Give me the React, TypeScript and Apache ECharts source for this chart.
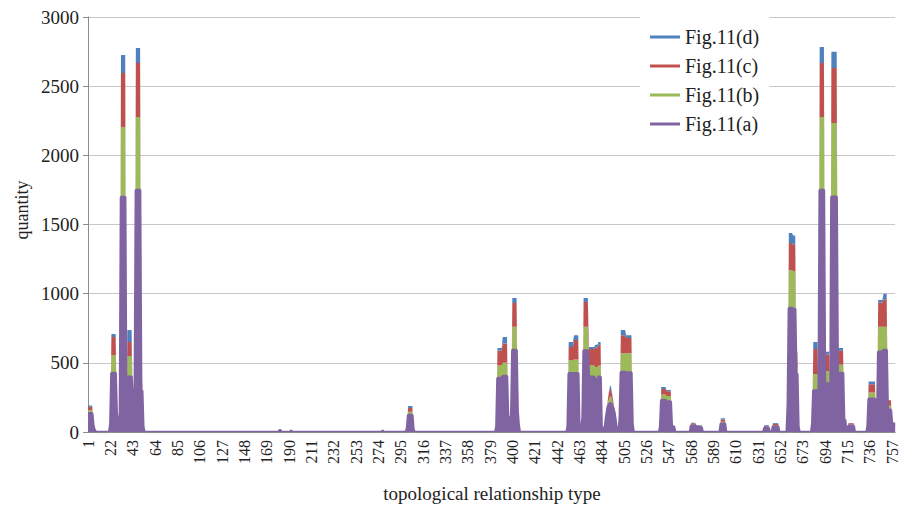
import React, { useEffect, useRef } from "react";
import * as echarts from "echarts";

// ---- data ----
const CATEGORY_COUNT = 760;
const categories: string[] = Array.from({ length: CATEGORY_COUNT }, (_, i) => String(i + 1));

const seriesNames = ["Fig.11(a)", "Fig.11(b)", "Fig.11(c)", "Fig.11(d)"];
const seriesColors = ["#8064A2", "#9BBB59", "#C0504D", "#4F81BD"];
const legendOrder = ["Fig.11(d)", "Fig.11(c)", "Fig.11(b)", "Fig.11(a)"];
const yTicks = [0, 500, 1000, 1500, 2000, 2500, 3000];

// rows: [fromCategory, toCategory, Fig.11(a), Fig.11(b), Fig.11(c), Fig.11(d)]
type Row = [number, number, number, number, number, number];

const leftCluster: Row[] = [
  [1, 5, 135, 22, 25, 10],
  [6, 6, 50, 0, 0, 0],
  [7, 7, 18, 0, 0, 0],
  [8, 8, 6, 0, 0, 0],
  [22, 22, 60, 0, 0, 0],
  [23, 27, 426, 131, 130, 21],
  [28, 28, 150, 20, 0, 0],
  [29, 30, 70, 0, 0, 0],
  [31, 31, 120, 0, 0, 0],
  [32, 36, 1699, 506, 391, 130],
  [37, 37, 80, 0, 0, 0],
  [38, 42, 400, 150, 100, 87],
  [43, 43, 250, 0, 0, 0],
  [44, 44, 200, 0, 0, 0],
  [45, 45, 300, 0, 0, 0],
  [46, 50, 1750, 528, 390, 108],
  [51, 52, 300, 20, 34, 0],
  [53, 53, 40, 0, 0, 0],
];

const smallBumps: Row[] = [
  [181, 182, 12, 0, 0, 0],
  [192, 192, 12, 0, 0, 0],
  [278, 278, 10, 0, 0, 0],
];

const middleCluster: Row[] = [
  [301, 301, 30, 0, 0, 0],
  [302, 306, 123, 24, 26, 15],
  [307, 307, 20, 0, 0, 0],
  [385, 385, 40, 0, 0, 0],
  [386, 390, 390, 90, 110, 17],
  [391, 395, 405, 95, 140, 47],
  [396, 397, 110, 0, 0, 0],
  [398, 398, 20, 0, 0, 0],
  [399, 399, 150, 0, 0, 0],
  [400, 404, 593, 167, 173, 35],
  [405, 405, 150, 0, 0, 0],
  [406, 406, 50, 0, 0, 0],
];

const centreCluster: Row[] = [
  [452, 452, 40, 0, 0, 0],
  [453, 457, 425, 95, 95, 35],
  [458, 462, 425, 100, 140, 35],
  [463, 465, 40, 0, 0, 0],
  [466, 466, 100, 0, 0, 0],
  [467, 471, 590, 170, 180, 28],
  [472, 477, 400, 80, 120, 15],
  [478, 480, 380, 90, 140, 20],
  [481, 483, 400, 80, 150, 20],
  [484, 487, 30, 0, 0, 0],
  [488, 488, 100, 10, 5, 0],
  [489, 489, 150, 20, 10, 0],
  [490, 490, 190, 30, 25, 5],
  [491, 491, 200, 40, 50, 10],
  [492, 492, 210, 50, 60, 20],
  [493, 493, 205, 45, 55, 15],
  [494, 494, 190, 35, 35, 10],
  [495, 495, 170, 25, 20, 5],
  [496, 496, 140, 15, 10, 0],
  [497, 497, 90, 0, 0, 0],
  [498, 498, 30, 0, 0, 0],
  [501, 501, 100, 0, 0, 0],
  [502, 506, 434, 136, 130, 37],
  [507, 512, 430, 140, 110, 20],
  [513, 513, 60, 0, 0, 0],
  [539, 539, 40, 0, 0, 0],
  [540, 544, 231, 40, 40, 14],
  [545, 549, 220, 40, 35, 9],
  [550, 552, 40, 0, 0, 0],
  [568, 572, 45, 8, 10, 4],
  [573, 578, 35, 6, 6, 3],
  [596, 600, 60, 15, 15, 9],
  [637, 641, 30, 8, 8, 4],
  [645, 650, 40, 10, 10, 5],
];

const rightCluster: Row[] = [
  [659, 659, 200, 0, 0, 0],
  [660, 663, 896, 275, 195, 73],
  [664, 666, 890, 270, 195, 65],
  [667, 668, 420, 40, 110, 10],
  [669, 669, 40, 0, 0, 0],
  [682, 682, 60, 0, 0, 0],
  [683, 687, 300, 120, 180, 51],
  [688, 688, 200, 0, 0, 0],
  [689, 693, 1750, 528, 390, 116],
  [694, 698, 350, 90, 120, 20],
  [699, 699, 150, 0, 0, 0],
  [700, 705, 1700, 534, 398, 116],
  [706, 711, 427, 60, 100, 20],
  [712, 713, 87, 0, 0, 0],
  [716, 721, 45, 10, 8, 2],
  [734, 734, 40, 0, 0, 0],
  [735, 741, 240, 45, 60, 20],
  [742, 743, 40, 0, 0, 0],
  [744, 748, 580, 180, 175, 20],
  [749, 752, 593, 167, 200, 40],
  [753, 756, 160, 30, 40, 0],
  [757, 760, 60, 0, 0, 0],
];

const allRows: Row[] = [...leftCluster, ...smallBumps, ...middleCluster, ...centreCluster, ...rightCluster];

function buildSeries(col: number): number[] {
  const arr: number[] = new Array(CATEGORY_COUNT).fill(0);
  for (const row of allRows) {
    for (let c = row[0]; c <= row[1]; c++) arr[c - 1] = row[2 + col];
  }
  return arr;
}

const FONT = "Liberation Serif";

export default function App() {
  const ref = useRef<HTMLDivElement>(null);
  useEffect(() => {
    if (!ref.current) return;
    const chart = echarts.init(ref.current, null, { renderer: "svg" });
    const series = seriesNames.map((name, i) => ({
      name,
      type: "line",
      stack: "total",
      data: buildSeries(i),
      symbol: "none",
      showSymbol: false,
      lineStyle: { width: i === 0 ? 2.5 : 0, color: seriesColors[i] },
      itemStyle: { color: seriesColors[i] },
      areaStyle: { color: seriesColors[i], opacity: 1 },
      emphasis: { disabled: true },
      z: 2,
    }));
    chart.setOption({
      animation: false,
      backgroundColor: "#ffffff",
      textStyle: { fontFamily: FONT },
      grid: { left: 88, right: 4, top: 17, bottom: 78, containLabel: false },
      legend: {
        data: legendOrder,
        orient: "vertical",
        left: 640,
        top: 17,
        padding: [10, 10, 10, 10],
        backgroundColor: "#ffffff",
        icon: "rect",
        itemWidth: 30,
        itemHeight: 3,
        itemGap: 9,
        textStyle: { fontFamily: FONT, fontSize: 20, color: "#222" },
        selectedMode: false,
        z: 10,
      },
      xAxis: {
        type: "category",
        data: categories,
        boundaryGap: false,
        axisLine: { show: true, lineStyle: { color: "#8c8c8c", width: 1 } },
        axisTick: { show: false },
        axisLabel: {
          interval: 20,
          rotate: 90,
          fontFamily: FONT,
          fontSize: 16,
          color: "#222",
          margin: 8,
        },
        splitLine: { show: false },
        z: 5,
      },
      yAxis: {
        type: "value",
        min: yTicks[0],
        max: yTicks[yTicks.length - 1],
        interval: 500,
        axisLine: { show: true, lineStyle: { color: "#8c8c8c", width: 1 } },
        axisTick: { show: true, length: 5, lineStyle: { color: "#8c8c8c" } },
        axisLabel: {
          fontFamily: FONT,
          fontSize: 19,
          color: "#222",
          margin: 9,
          formatter: (v: number) => String(v),
        },
        splitLine: { show: true, lineStyle: { color: "#c8c8c8", width: 1 } },
      },
      graphic: [
        {
          type: "text",
          x: 22,
          y: 210,
          rotation: Math.PI / 2,
          style: {
            text: "quantity",
            fontFamily: FONT,
            fontSize: 18,
            fill: "#222",
            textAlign: "center",
            textVerticalAlign: "middle",
          },
        },
        {
          type: "text",
          x: 492,
          y: 493,
          style: {
            text: "topological relationship type",
            fontFamily: FONT,
            fontSize: 19,
            fill: "#222",
            textAlign: "center",
            textVerticalAlign: "middle",
          },
        },
      ],
      series,
    });
    return () => chart.dispose();
  }, []);
  return (
    <div
      ref={ref}
      style={{ position: "fixed", left: 0, top: 0, width: 900, height: 510, background: "#fff" }}
    />
  );
}
